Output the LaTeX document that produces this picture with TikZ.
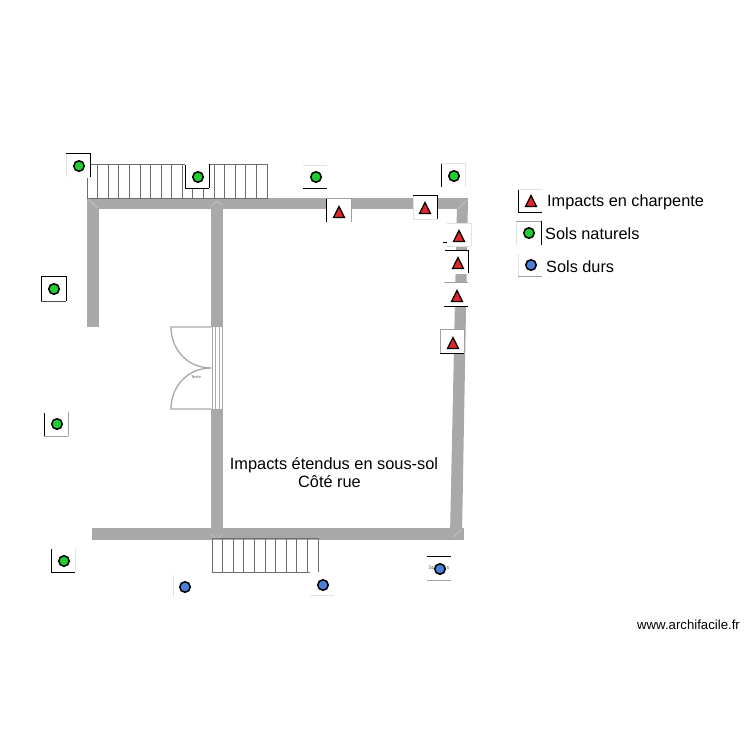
\documentclass[tikz,border=0pt]{standalone}
\usepackage{fontspec}
\setmainfont{Liberation Sans}
\definecolor{wallc}{HTML}{AAA9AA}
\definecolor{wallhi}{HTML}{C8C8C8}
\definecolor{stairc}{HTML}{6E6E6E}
\definecolor{doorc}{HTML}{A8A8A8}
\definecolor{greenm}{HTML}{22CC33}
\definecolor{bluem}{HTML}{4A7FD8}
\definecolor{redm}{HTML}{E0282C}
\definecolor{fa}{HTML}{E2E2E2}
\definecolor{fb}{HTML}{A0A0A0}
\tikzset{
  wall/.style={fill=wallc,draw=none},
  stairline/.style={draw=stairc,line width=0.9pt},
  doorline/.style={draw=doorc,line width=1.3pt},
  joint/.style={draw=wallhi,line width=0.7pt},
  lbl/.style={inner sep=0pt,anchor=center,font=\fontsize{16.35}{19}\selectfont,align=center},
  legend/.style={inner sep=0pt,anchor=west,font=\fontsize{16.3}{19}\selectfont},
  tiny/.style={inner sep=0pt,text=black!65,font=\fontsize{4}{5}\selectfont},
  dotg/.style={circle,draw=black,line width=1.5pt,fill=greenm,minimum size=10.5pt,inner sep=0pt},
  dotb/.style={circle,draw=black,line width=1.5pt,fill=bluem,minimum size=10.5pt,inner sep=0pt},
  tri/.style={draw=black,line width=1.2pt,fill=redm,line join=miter},
}
% frame: x0,y0,x1,y1, left, top, right, bottom colours
\newcommand{\frm}[8]{%
  \fill[white] (#1,#2) rectangle (#3,#4);
  \draw[#5,line width=1pt] (#1,#2) -- (#1,#4);
  \draw[#6,line width=1pt] (#1,#2) -- (#3,#2);
  \draw[#7,line width=1pt] (#3,#2) -- (#3,#4);
  \draw[#8,line width=1pt] (#1,#4) -- (#3,#4);
}
\newcommand{\trim}[2]{\draw[tri] (#1-5.5,#2+5.5) -- (#1+5.5,#2+5.5) -- (#1,#2-5.5) -- cycle;}
\begin{document}
\begin{tikzpicture}[x=1pt,y=-1pt]
\useasboundingbox (0,0) rectangle (750,750);
\fill[white] (0,0) rectangle (750,750);
% walls
\fill[wall] (87,198) -- (468,198) -- (468,209) -- (87,209) -- cycle;
\fill[wall] (87,198) rectangle (99,327);
\fill[wall] (211,198) rectangle (223,327);
\fill[wall] (211,409) rectangle (223,535);
\fill[wall] (92,528) rectangle (464,540);
\fill[wall] (457,205) -- (468,198) -- (462,535) -- (450,535) -- cycle;
% joints
\draw[joint] (88,199) -- (98,208);
\draw[joint] (212,205) -- (217,201) -- (222,205);
\draw[joint] (212,535) -- (217,539) -- (222,535);
\draw[joint] (458,209) -- (467,200);
\draw[joint] (453,537) -- (461,530);
% top stairs
\draw[stairline] (87,164) rectangle (267,198);
\foreach \i in {1,...,16} \draw[stairline] ({87+\i*10.59},164) -- ({87+\i*10.59},198);
% bottom stairs
\draw[stairline] (212,538) rectangle (318,572);
\foreach \i in {1,...,9} \draw[stairline] ({212+\i*10.6},538) -- ({212+\i*10.6},572);
% door
\fill[white] (212.5,327) rectangle (221.5,409);
\draw[doorc,line width=1pt] (212,327) -- (212,409);
\draw[doorc,line width=1pt] (215,327) -- (215,409);
\draw[doorc,line width=1pt] (219,327) -- (219,409);
\draw[doorc,line width=1pt] (222,327) -- (222,409);
\draw[doorline] (211,327) -- (171,327) .. controls (171,350) and (188,368) .. (211,368);
\draw[doorline] (211,409) -- (171,409) .. controls (171,386) and (188,368) .. (211,368);
\node[tiny] (doorlabel) at (196,377) {Texte};
% texts
\node[lbl] (t1) at (334,465.5) {Impacts étendus en sous-sol};
\node[lbl] (t2) at (329.5,481.5) {Côté rue};
\node[inner sep=0pt,font=\fontsize{13.2}{15}\selectfont] (wm) at (688.5,624.5) {www.archifacile.fr};
% markers: green
\frm{66}{153}{90}{177}{fa}{black}{black}{white}
\node[dotg] (g1) at (79,166) {};
\frm{185}{164}{209}{188}{black}{white}{black}{black}
\node[dotg] (g2) at (198,177) {};
\frm{303}{165}{327}{188}{white}{fa}{white}{black}
\node[dotg] (g3) at (316,177) {};
\frm{441}{163}{465}{187}{black}{fa}{fa}{white}
\node[dotg] (g4) at (454,176) {};
\frm{41}{276}{66}{301}{black}{black}{black}{black!70}
\node[dotg] (g5) at (54,289) {};
\frm{44}{412}{68}{436}{black}{white}{fb}{fb}
\node[dotg] (g6) at (57,424) {};
\frm{51}{548}{75}{572}{black}{white}{fa}{black}
\node[dotg] (g7) at (64,561) {};
% markers: blue
\frm{173}{574}{197}{597}{fa}{white}{white}{white}
\node[dotb] (b1) at (185,587) {};
\frm{310}{572}{334}{595}{white}{white}{white}{fa}
\node[dotb] (b2) at (323,585) {};
\frm{427}{556}{451}{580}{white}{black}{white}{fb}
\node[tiny,font=\fontsize{5}{6}\selectfont] (b3t) at (439,568) {Sols durs};
\node[dotb] (b3) at (440,569) {};
% markers: triangles
\frm{326}{198}{351}{222}{black}{fb}{fb}{white}
\trim{339}{212}
\frm{413}{195}{437}{219}{fa}{black}{black}{fa}
\trim{425}{208}
\draw[black,line width=0.8pt] (443,242) -- (447,242);
\frm{447}{223}{471}{246}{white}{fa}{fa}{fa}
\trim{459}{236}
\frm{445}{250}{468}{273}{white}{black}{black}{white}
\trim{458}{263}
\frm{444}{282}{468}{306}{white}{fb}{white}{black}
\trim{457}{296}
\frm{440}{329}{464}{353}{fb}{fb}{fb}{black}
\trim{453}{343}
% legend
\frm{518}{189}{542}{212}{black}{fa}{white}{black}
\trim{531}{201}
\node[legend] (l1) at (547,202) {Impacts en charpente};
\frm{516}{221}{541}{245}{fa}{fb}{black}{white}
\node[dotg] (l2m) at (529,233) {};
\node[legend] (l2) at (545,234) {Sols naturels};
\frm{518}{253}{542}{276}{fa}{white}{white}{fb}
\node[dotb] (l3m) at (531,265) {};
\node[legend] (l3) at (546,267) {Sols durs};
\end{tikzpicture}
\end{document}
